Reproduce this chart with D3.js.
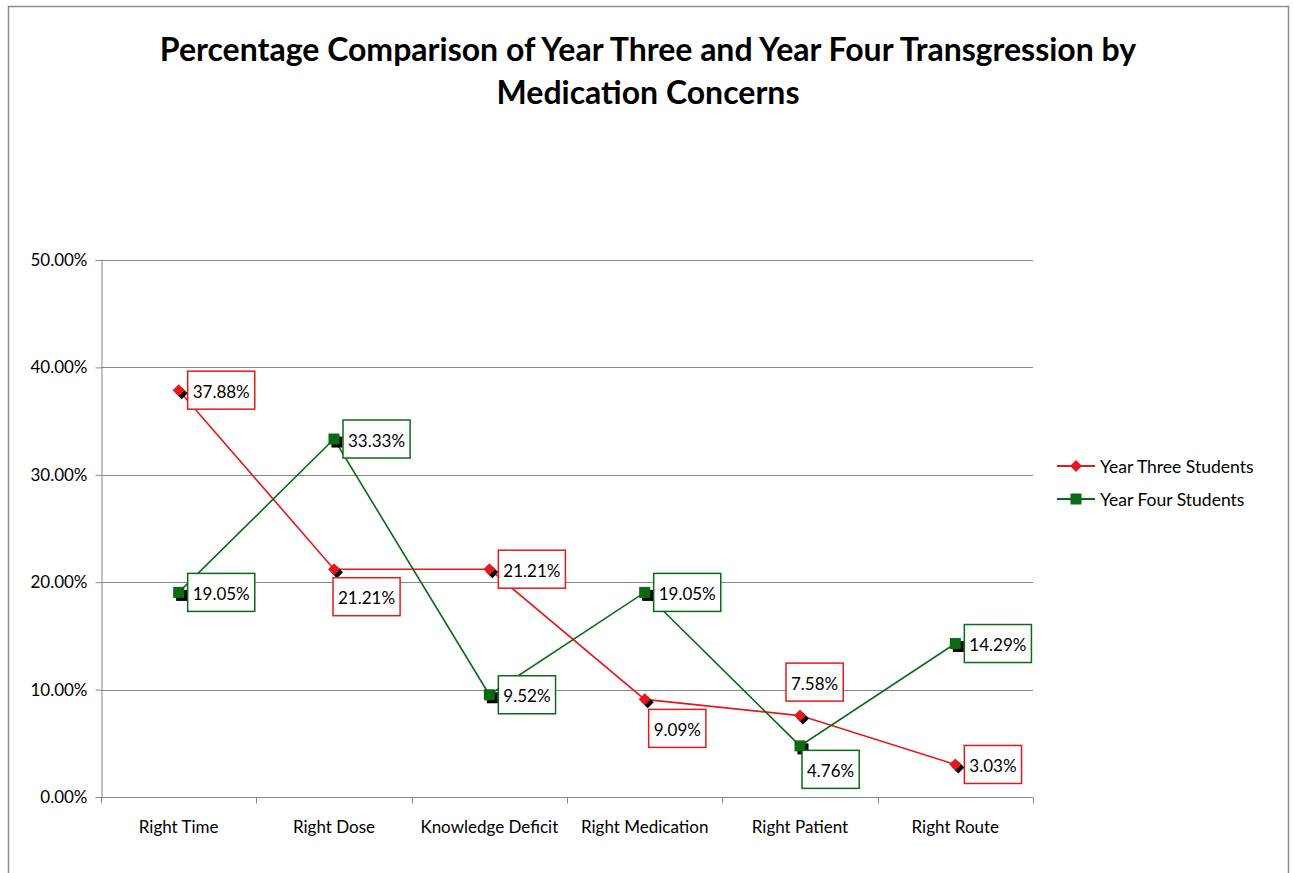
<!DOCTYPE html>
<html>
<head>
<meta charset="utf-8">
<script src="https://cdn.jsdelivr.net/npm/d3@7"></script>
<style>
  body { margin: 0; background: #fff; }
  text { font-family: Lato, "Open Sans", sans-serif; fill: #000; }
</style>
</head>
<body>
<div id="chart"></div>
<script>
// categories and series
var categories = ["Right Time", "Right Dose", "Knowledge Deficit", "Right Medication", "Right Patient", "Right Route"];
var yearThree = [37.88, 21.21, 21.21, 9.09, 7.58, 3.03];
var yearFour = [19.05, 33.33, 9.52, 19.05, 4.76, 14.29];
var yTicks = [0, 10, 20, 30, 40, 50];
var seriesNames = ["Year Three Students", "Year Four Students"];

var W = 1293, H = 873;
var margin = {top: 260, right: 260, bottom: 76, left: 101},
    width = 1033 - margin.left,
    height = 797 - margin.top;

var svg = d3.select("#chart").append("svg")
    .attr("width", W).attr("height", H);

// outer chart border
svg.append("rect")
    .attr("x", 8.5).attr("y", 6.5)
    .attr("width", 1280).attr("height", 900)
    .attr("fill", "none").attr("stroke", "#8e8e8e").attr("stroke-width", 1.5);

// title
var title = svg.append("text")
    .attr("text-anchor", "middle")
    .style("font-weight", "bold")
    .style("font-size", "32px");
title.append("tspan").attr("x", 648).attr("y", 61)
    .text("Percentage Comparison of Year Three and Year Four Transgression by");
title.append("tspan").attr("x", 648).attr("y", 104)
    .text("Medication Concerns");

var g = svg.append("g").attr("transform", "translate(" + margin.left + "," + margin.top + ")");

var x = d3.scaleBand().domain(categories).range([0, width]);
var y = d3.scaleLinear().domain([0, 50]).range([height, 0]);

// gridlines
g.selectAll(".grid").data(yTicks.filter(function(d) { return d > 0; }))
  .enter().append("line")
    .attr("x1", 0).attr("x2", width)
    .attr("y1", function(d) { return Math.round(y(d)) + 0.5; })
    .attr("y2", function(d) { return Math.round(y(d)) + 0.5; })
    .attr("stroke", "#878787");

// y axis
var yAxis = g.append("g").attr("transform", "translate(0.5,0)")
    .call(d3.axisLeft(y).tickValues(yTicks).tickSize(6).tickPadding(8)
      .tickFormat(function(d) { return d.toFixed(2) + "%"; }));
yAxis.select(".domain").attr("stroke", "#878787");
yAxis.selectAll(".tick line").attr("stroke", "#878787");
yAxis.selectAll("text").style("font-size", "17px").style("font-family", "Lato, sans-serif");

// x axis
var xAxis = g.append("g").attr("transform", "translate(0," + (height + 0.5) + ")");
xAxis.append("line").attr("x1", 0).attr("x2", width).attr("stroke", "#878787");
var bounds = d3.range(categories.length + 1).map(function(i) { return i * x.step(); });
xAxis.selectAll(".xt").data(bounds).enter().append("line")
    .attr("x1", function(d) { return Math.round(d) + 0.5; })
    .attr("x2", function(d) { return Math.round(d) + 0.5; })
    .attr("y1", 0).attr("y2", 6).attr("stroke", "#878787");
xAxis.selectAll(".xl").data(categories).enter().append("text")
    .attr("x", function(d) { return x(d) + x.bandwidth() / 2; })
    .attr("y", 35)
    .attr("text-anchor", "middle")
    .style("font-size", "17px")
    .text(function(d) { return d; });

function cx(i) { return x(categories[i]) + x.bandwidth() / 2; }

var line = d3.line()
    .x(function(d, i) { return cx(i); })
    .y(function(d) { return y(d); });

var series = [
  {name: seriesNames[0], values: yearThree, color: "#e31a1c", shape: "diamond"},
  {name: seriesNames[1], values: yearFour, color: "#0a6b14", shape: "square"}
];

// label placement: box left edge offset from point and box-centre vertical offset
var labelPlace = [
  [[9, 0], [-1, 27.5], [9, 0], [4, 29], [-14, -33.5], [9, 0]],
  [[9, 0], [9, 0], [9, 0], [9, 0], [2, 23.5], [9, 0]]
];

function marker(sel, shape, color, dx, dy) {
  if (shape === "diamond") {
    sel.append("path")
      .attr("d", "M0,-6L6,0L0,6L-6,0Z")
      .attr("transform", "translate(" + dx + "," + dy + ")")
      .attr("fill", color);
  } else {
    sel.append("rect")
      .attr("x", -5.5 + dx).attr("y", -5.5 + dy)
      .attr("width", 11).attr("height", 11)
      .attr("fill", color);
  }
}

series.forEach(function(s, si) {
  g.append("path")
    .attr("d", line(s.values))
    .attr("fill", "none")
    .attr("stroke", s.color)
    .attr("stroke-width", 1.6);

  s.values.forEach(function(v, i) {
    var px = cx(i), py = y(v);
    var m = g.append("g").attr("transform", "translate(" + px + "," + py + ")");
    marker(m, s.shape, "#000", 3, 3);
    marker(m, s.shape, s.color, 0, 0);
  });
});

// data labels (drawn last)
series.forEach(function(s, si) {
  s.values.forEach(function(v, i) {
    var px = cx(i), py = y(v);
    var place = labelPlace[si][i];
    var lg = g.append("g");
    var t = lg.append("text")
      .style("font-size", "17px")
      .attr("dominant-baseline", "central")
      .text(v.toFixed(2) + "%");
    var tw = t.node().getComputedTextLength();
    var bw = tw + 10, bh = 38;
    var bx = px + place[0], by = py + place[1] - bh / 2;
    lg.insert("rect", "text")
      .attr("x", bx).attr("y", by)
      .attr("width", bw).attr("height", bh)
      .attr("fill", "#fff")
      .attr("stroke", s.color).attr("stroke-width", 1.5);
    t.attr("x", bx + 5).attr("y", by + bh / 2 + 1);
  });
});

// legend
var legend = svg.append("g").attr("transform", "translate(1057,466)");
series.forEach(function(s, si) {
  var lg = legend.append("g").attr("transform", "translate(0," + (si * 33) + ")");
  lg.append("line").attr("x1", 0).attr("x2", 38).attr("y1", 0).attr("y2", 0)
    .attr("stroke", s.color).attr("stroke-width", 1.8);
  var m = lg.append("g").attr("transform", "translate(19,0)");
  marker(m, s.shape, s.color, 0, 0);
  lg.append("text").attr("x", 43).attr("y", 0)
    .attr("dominant-baseline", "central")
    .style("font-size", "17.5px")
    .text(s.name);
});
</script>
</body>
</html>
